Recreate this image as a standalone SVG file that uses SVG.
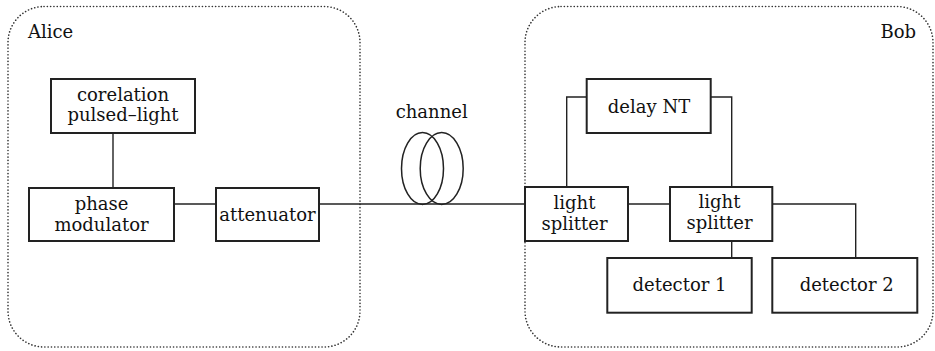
<svg xmlns="http://www.w3.org/2000/svg" width="935" height="351" viewBox="0 0 935 351">
<style>
.bg{fill:#fff}
.region{fill:none;stroke:#333;stroke-width:1.6;stroke-dasharray:0.1 3.2;stroke-linecap:round}
.box{fill:#fff;stroke:#222;stroke-width:2}
.ln{fill:none;stroke:#222;stroke-width:1.4}
.coil{fill:none;stroke:#222;stroke-width:1.5}
text{font-family:"DejaVu Serif","Liberation Serif",serif;font-size:18px;fill:#111;text-anchor:middle}
</style>
<rect class="bg" x="0" y="0" width="935" height="351"/>
<g id="alice-region">
<rect class="region" x="8" y="6.5" width="352" height="340.5" rx="36" ry="36"/>
<text x="28" y="38" style="text-anchor:start">Alice</text>
</g>
<g id="bob-region">
<rect class="region" x="525" y="6.5" width="408" height="340.5" rx="36" ry="36"/>
<text x="916" y="38" style="text-anchor:end">Bob</text>
</g>
<g id="connectors">
<line class="ln" x1="113" y1="133" x2="113" y2="188"/>
<line class="ln" x1="174" y1="204" x2="216" y2="204"/>
<line class="ln" x1="319" y1="204" x2="525" y2="204"/>
<line class="ln" x1="628" y1="204" x2="670" y2="204"/>
<polyline class="ln" points="586.7,97 566.7,97 566.7,187"/>
<polyline class="ln" points="710.7,97 731.7,97 731.7,187"/>
<polyline class="ln" points="772.3,204 855.7,204 855.7,258"/>
<line class="ln" x1="731.7" y1="241" x2="731.7" y2="258"/>
</g>
<g id="channel">
<ellipse class="coil" cx="422.5" cy="168.5" rx="21" ry="36"/>
<ellipse class="coil" cx="441.7" cy="168.5" rx="21.5" ry="36"/>
<text x="431.7" y="118">channel</text>
</g>
<g id="corelation">
<rect class="box" x="51" y="79" width="144" height="54"/>
<text x="123" y="101">corelation</text>
<text x="123" y="121">pulsed–light</text>
</g>
<g id="phase-modulator">
<rect class="box" x="29" y="188" width="145" height="53"/>
<text x="101.5" y="210">phase</text>
<text x="101.5" y="231">modulator</text>
</g>
<g id="attenuator">
<rect class="box" x="216" y="188" width="103" height="53"/>
<text x="267.5" y="221">attenuator</text>
</g>
<g id="delay">
<rect class="box" x="586.7" y="79" width="124" height="54"/>
<text x="649" y="113">delay NT</text>
</g>
<g id="splitter1">
<rect class="box" x="525" y="187" width="103" height="54"/>
<text x="574.5" y="209">light</text>
<text x="574.5" y="230">splitter</text>
</g>
<g id="splitter2">
<rect class="box" x="670" y="187" width="102.3" height="54"/>
<text x="719.5" y="208">light</text>
<text x="719.5" y="229">splitter</text>
</g>
<g id="detector1">
<rect class="box" x="607.3" y="258" width="144.4" height="54.7"/>
<text x="679.5" y="291">detector 1</text>
</g>
<g id="detector2">
<rect class="box" x="772.3" y="258" width="145" height="54.7"/>
<text x="846.7" y="291">detector 2</text>
</g>
</svg>
